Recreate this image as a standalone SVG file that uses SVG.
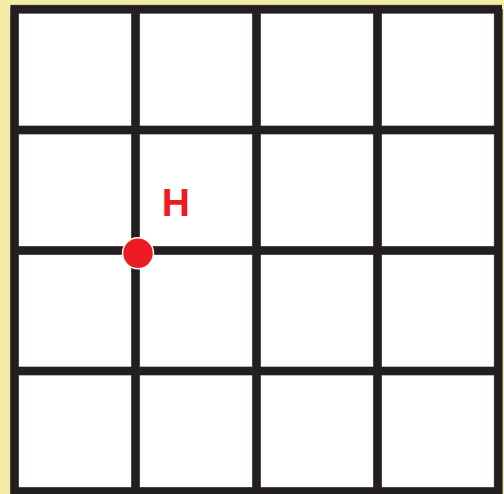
<svg xmlns="http://www.w3.org/2000/svg" width="504" height="494" viewBox="0 0 504 494">
<style>
.g{stroke:#231f20;stroke-width:8;fill:none}
.o{stroke:#6d6e71;stroke-width:9;fill:none}
</style>
<rect width="504" height="494" fill="#f4eca6"/>
<rect x="14.5" y="9.3" width="484" height="482" fill="#ffffff"/>
<g id="grid">
<path class="o" d="M14.5 9.3V494M135.5 9.3V494M256.5 9.3V494M377.5 9.3V494M498.3 9.3V494M10.5 9.3H502M10.5 130H502M10.5 250.5H502M10.5 371H502M10.5 491.5H502"/>
<path class="g" d="M14.5 9.3V494M135.5 9.3V494M256.5 9.3V494M377.5 9.3V494M498.3 9.3V494M10.5 9.3H502M10.5 130H502M10.5 250.5H502M10.5 371H502M10.5 491.5H502"/>
</g>
<g id="point-H">
<circle cx="138" cy="253.3" r="15.5" fill="#ed1c24" stroke="#ffffff" stroke-width="1.5"/>
<text x="175.8" y="216" text-anchor="middle" font-family="Liberation Sans, Arial, sans-serif" font-weight="bold" font-size="39" fill="#ed1c24">H</text>
</g>
</svg>
